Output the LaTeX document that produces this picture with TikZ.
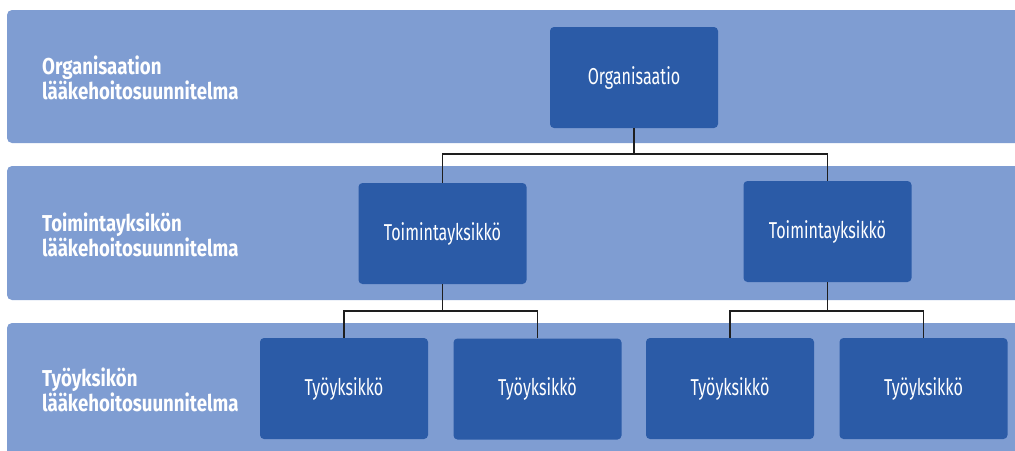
\documentclass[tikz,border=0pt]{standalone}
\usepackage{fontspec}
\setmainfont{Fira Sans}[FakeStretch=0.70]
\newfontfamily\labelfont{Fira Sans}[FakeStretch=0.81]
\definecolor{bandblue}{HTML}{7F9DD2}
\definecolor{boxblue}{HTML}{2B5BA7}
\definecolor{linegray}{HTML}{1E1E1E}
\begin{document}
\begin{tikzpicture}[x=1pt,y=-1pt,
  band/.style={fill=bandblue,draw=none,rounded corners=5pt},
  unitbox/.style={fill=boxblue,draw=none,rounded corners=4pt,minimum width=168pt,minimum height=101pt,inner sep=0pt,text=white,font=\fontsize{23}{26}\selectfont},
  bandlabel/.style={anchor=west,align=left,text=white,inner sep=0pt,font=\labelfont\fontsize{23}{24.5}\selectfont\bfseries},
  conn/.style={draw=linegray,line width=1.5pt}]
\useasboundingbox (0,0) rectangle (1015,450);
\clip (0,0) rectangle (1015,450);
\fill[white] (0,0) rectangle (1015,450);
\path[band] (7,10) rectangle (1030,143);
\path[band] (7,166) rectangle (1030,300);
\path[band] (7,323) rectangle (1030,470);
\node[bandlabel] (l1) at (42,78) {Organisaation\\lääkehoitosuunnitelma};
\node[bandlabel] (l2) at (42,235) {Toimintayksikön\\lääkehoitosuunnitelma};
\node[bandlabel] (l3) at (42,390) {Työyksikön\\lääkehoitosuunnitelma};
\node[unitbox] (org) at (634,77.5) {Organisaatio};
\node[unitbox] (t1) at (442.5,233.5) {Toimintayksikkö};
\node[unitbox] (t2) at (827.5,231.5) {Toimintayksikkö};
\node[unitbox] (w1) at (344,388.5) {Työyksikkö};
\node[unitbox] (w2) at (537.5,389) {Työyksikkö};
\node[unitbox] (w3) at (730,388.5) {Työyksikkö};
\node[unitbox] (w4) at (923.5,388.5) {Työyksikkö};
\coordinate (j1) at (634,154);
\coordinate (j2) at (442.5,311);
\coordinate (j3) at (827.5,311);
\draw[conn] (org.south) -- (j1) -| (t1.north);
\draw[conn] (j1) -| (t2.north);
\draw[conn] (t1.south) -- (j2) -| (w1.north);
\draw[conn] (j2) -| (w2.north);
\draw[conn] (t2.south) -- (j3) -| (w3.north);
\draw[conn] (j3) -| (w4.north);
\end{tikzpicture}
\end{document}
